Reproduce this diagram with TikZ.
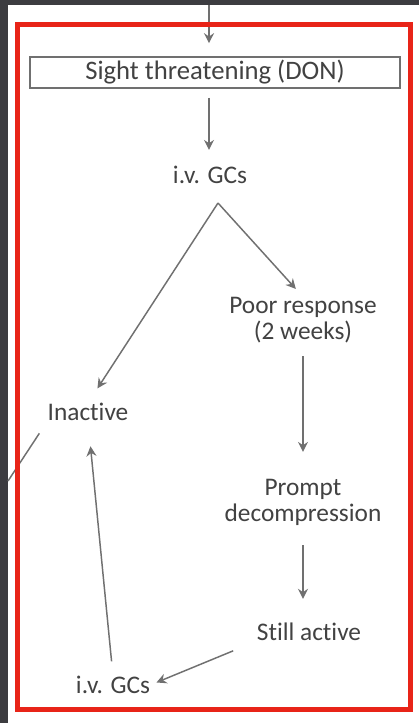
\documentclass[tikz,border=0pt]{standalone}
\usepackage{fontspec}
\setmainfont{Carlito}[Ligatures=NoCommon]
\usetikzlibrary{arrows.meta,positioning,calc}

\definecolor{frameRed}{RGB}{232,36,24}
\definecolor{lineGray}{RGB}{112,112,112}
\definecolor{textGray}{RGB}{66,66,66}
\definecolor{bandGray}{RGB}{60,60,64}

\begin{document}
\begin{tikzpicture}[x=0.75pt,y=0.75pt,yscale=-1,xscale=1,
  lbl/.style={text=textGray,font=\fontsize{19}{19.5}\selectfont,align=center,inner sep=0pt},
  arr/.style={draw=lineGray,line width=1.1pt,-{Stealth[length=7.5pt,width=7.5pt,inset=2.5pt]}},
  plain/.style={draw=lineGray,line width=1.1pt}]
%set diagram to 419 x 723
\useasboundingbox (0,0) rectangle (419,723);

%Shape: dark band and white sheet
\fill [bandGray] (0,0) rectangle (419,723);
\fill [white] (8,5) rectangle (419,723);

% Box Node
\node [lbl,font=\fontsize{20}{20}\selectfont,draw=lineGray,line width=1.2pt,minimum width=277.5pt,minimum height=23.25pt] (threat) at (215,72.5) {Sight threatening (DON)};
% Text Node
\node [lbl] (ivgcTop) at (210,175) {i.v. GCs};
% Text Node
\node [lbl] (poor) at (303,320) {Poor response\\(2 weeks)};
% Text Node
\node [lbl] (inactive) at (88,412) {Inactive};
% Text Node
\node [lbl] (prompt) at (303,502) {Prompt\\decompression};
% Text Node
\node [lbl] (still) at (309,632) {Still active};
% Text Node
\node [lbl] (ivgcBot) at (113,685) {i.v. GCs};

\coordinate (entry) at (209,5);
\coordinate (apex) at (218,203);
\coordinate (exit) at (8,481);

%Straight Lines
\draw [arr,shorten >=9.75pt] (entry) -- (entry |- threat.north);
\draw [arr,shorten <=6.75pt,shorten >=12pt] (threat.south -| entry) -- (ivgcTop.north -| entry);
\draw [arr,shorten >=13pt] (apex) -- (inactive.north);
\draw [arr,shorten >=8pt] (apex) -- (poor.north);
\draw [arr,shorten <=9.75pt,shorten >=20pt] (poor.south) -- (prompt.north);
\draw [arr,shorten <=15pt,shorten >=18pt] (prompt.south) -- (prompt.south |- still.north);
\draw [arr,shorten <=19pt,shorten >=5pt] (still.south west) -- (ivgcBot.east);
\draw [arr,shorten <=11pt,shorten >=19pt] (ivgcBot.north) -- (inactive.south);
\draw [plain,shorten <=11pt] (inactive.south west) -- (exit);

%Shape: red frame
\draw [frameRed,line width=3.75pt] (17.5,24.5) rectangle (410.5,709);

\end{tikzpicture}
\end{document}
